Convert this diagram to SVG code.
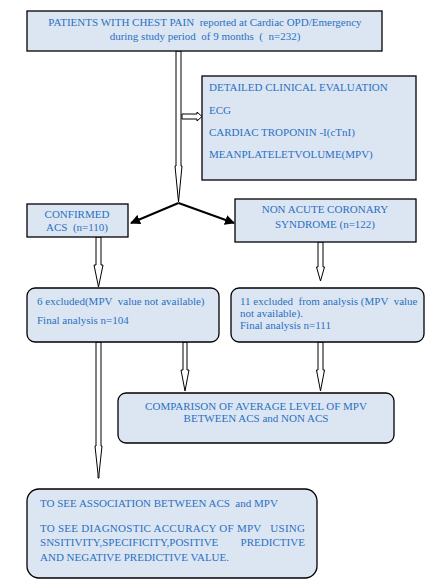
<svg xmlns="http://www.w3.org/2000/svg" width="439" height="587" viewBox="0 0 439 587">
<style>
.box{fill:#dce6f2;stroke:#000;stroke-width:1.3}
.t{font-family:"Liberation Serif","Times New Roman",serif;font-size:11px;fill:#2a70c2;white-space:pre}
.c{text-anchor:middle}
.ar{fill:#fff;stroke:#000;stroke-width:1}
.ln{stroke:#000;stroke-width:2;fill:none}
</style>
<defs>
<marker id="ah" viewBox="0 0 10 10" refX="9" refY="5" markerWidth="5" markerHeight="5" orient="auto">
<path d="M0,0 L10,5 L0,10 z" fill="#000"/>
</marker>
</defs>
<rect width="439" height="587" fill="#fff"/>
<g id="connectors">
<path class="ar" d="M176,51 V166 L175,166 L178.5,202 L182,166 L181,166 V51 Z"/>
<path class="ln" d="M178.5,203 L131,223" marker-end="url(#ah)"/>
<path class="ln" d="M178.5,203 L234,223" marker-end="url(#ah)"/>
<path class="ar" d="M182,114 H197 V112 L202,116.5 L197,121 V119 H182 Z"/>
<path class="ar" d="M96,237 V265 H94 L98.5,287 L103,265 H101 V237 Z"/>
<path class="ar" d="M318,242 V267 H316.5 L320.5,281 L324.5,267 H323 V242 Z"/>
<path class="ar" d="M183,342 V370 H181 L185,391 L189,370 H187 V342 Z"/>
<path class="ar" d="M318,342 V370 H316.5 L320.5,391 L324.5,370 H323 V342 Z"/>
<path class="ar" d="M96,342 V446 H95 L98,474 L98,478 L99,478 L99,474 L102,446 H101 V342 Z"/>
</g>
<g id="patients">
<rect class="box" x="27" y="11" width="355" height="40"/>
<text class="t c" x="205" y="26">PATIENTS WITH CHEST PAIN  reported at Cardiac OPD/Emergency</text>
<text class="t c" x="205" y="40">during study period  of 9 months  (  n=232)</text>
</g>
<g id="evaluation">
<rect class="box" x="202" y="76" width="214" height="104"/>
<text class="t" x="209" y="91">DETAILED CLINICAL EVALUATION</text>
<text class="t" x="209" y="114">ECG</text>
<text class="t" x="209" y="136">CARDIAC TROPONIN -I(cTnI)</text>
<text class="t" x="209" y="158">MEANPLATELETVOLUME(MPV)</text>
</g>
<g id="acs">
<rect class="box" x="27" y="204" width="101" height="33"/>
<text class="t c" x="77" y="218">CONFIRMED</text>
<text class="t c" x="77" y="231">ACS  (n=110)</text>
</g>
<g id="nonacs">
<rect class="box" x="235" y="199" width="181" height="43"/>
<text class="t c" x="325" y="213">NON ACUTE CORONARY</text>
<text class="t c" x="325" y="228">SYNDROME (n=122)</text>
</g>
<g id="acs-excluded">
<rect class="box" x="27" y="288" width="192" height="54" rx="8"/>
<text class="t" x="37" y="305">6 excluded(MPV  value not available)</text>
<text class="t" x="37" y="324">Final analysis n=104</text>
</g>
<g id="nonacs-excluded">
<rect class="box" x="231" y="288" width="193" height="54" rx="8"/>
<text class="t" x="240" y="305">11 excluded  from analysis (MPV  value</text>
<text class="t" x="240" y="317">not available).</text>
<text class="t" x="240" y="329">Final analysis n=111</text>
</g>
<g id="comparison">
<rect class="box" x="118" y="393" width="276" height="50" rx="8"/>
<text class="t c" x="256" y="410">COMPARISON OF AVERAGE LEVEL OF MPV</text>
<text class="t c" x="256" y="422">BETWEEN ACS and NON ACS</text>
</g>
<g id="association">
<rect class="box" x="27" y="489" width="290" height="89" rx="12"/>
<text class="t" x="40" y="507">TO SEE ASSOCIATION BETWEEN ACS  and MPV</text>
<text class="t" x="40" y="532" textLength="265" lengthAdjust="spacing">TO SEE DIAGNOSTIC ACCURACY OF MPV   USING</text>
<text class="t" x="40" y="546" textLength="265" lengthAdjust="spacing">SNSITIVITY,SPECIFICITY,POSITIVE        PREDICTIVE</text>
<text class="t" x="40" y="561">AND NEGATIVE PREDICTIVE VALUE.</text>
</g>
</svg>
